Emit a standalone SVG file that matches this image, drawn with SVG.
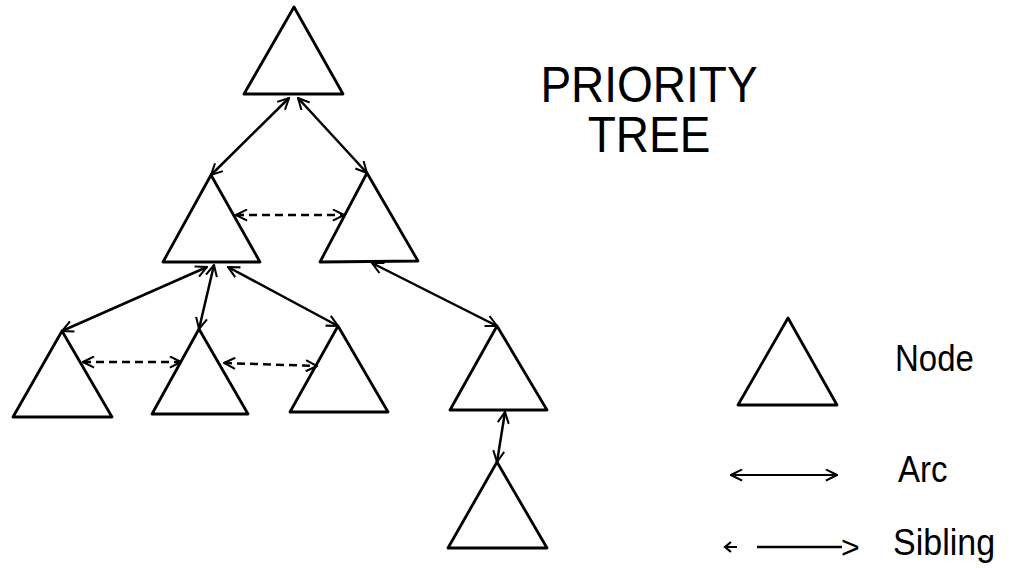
<svg xmlns="http://www.w3.org/2000/svg" width="1016" height="568" viewBox="0 0 1016 568">
  <style>
    .tri { fill: none; stroke: #000; stroke-width: 2.8; stroke-linejoin: round; }
    .arc { fill: none; stroke: #000; stroke-width: 2.5; marker-start: url(#head); marker-end: url(#head); }
    .sib { fill: none; stroke: #000; stroke-width: 2.5; stroke-dasharray: 8 5; marker-start: url(#head); marker-end: url(#head); }
    .lbl { font-family: "Liberation Sans", Arial, sans-serif; fill: #000; }
  </style>
  <defs>
    <marker id="head" viewBox="0 0 14 14" refX="13" refY="7" markerWidth="13" markerHeight="13" markerUnits="userSpaceOnUse" orient="auto-start-reverse">
      <path d="M1,1 L13,7 L1,13" fill="none" stroke="#000" stroke-width="2.2"/>
    </marker>
  </defs>

  <!-- tree nodes -->
  <g id="node-root"><polygon class="tri" points="294,7 244,94 343,94"/></g>
  <g id="node-l1-left"><polygon class="tri" points="211,175 163,262 260,262"/></g>
  <g id="node-l1-right"><polygon class="tri" points="367,173 320,262 418,261"/></g>
  <g id="node-l2-a"><polygon class="tri" points="62,331 13,417 112,417"/></g>
  <g id="node-l2-b"><polygon class="tri" points="199,329 152,414 248,414"/></g>
  <g id="node-l2-c"><polygon class="tri" points="338,326 290,412 388,412"/></g>
  <g id="node-l2-d"><polygon class="tri" points="497,326 450,410 547,410"/></g>
  <g id="node-l3"><polygon class="tri" points="497,462 448,548 547,548"/></g>

  <!-- arcs and sibling links -->
  <g id="connectors">
    <line class="arc" x1="289" y1="98" x2="211" y2="175"/>
    <line class="arc" x1="298" y1="98" x2="367" y2="173"/>
    <line class="arc" x1="207" y1="267" x2="62" y2="331"/>
    <line class="arc" x1="214" y1="265" x2="199" y2="329"/>
    <line class="arc" x1="228" y1="267" x2="338" y2="326"/>
    <line class="arc" x1="372" y1="263" x2="497" y2="326"/>
    <line class="arc" x1="505" y1="412" x2="497" y2="462"/>
    <line class="sib" x1="236" y1="215" x2="344" y2="215"/>
    <line class="sib" x1="83" y1="362" x2="181" y2="362"/>
    <line class="sib" x1="224" y1="363" x2="317" y2="366"/>
  </g>

  <!-- title -->
  <g id="title">
    <text class="lbl" font-size="46" text-anchor="middle" transform="translate(649,102) scale(1,1.07)">PRIORITY</text>
    <text class="lbl" font-size="46" text-anchor="middle" transform="translate(649,152) scale(1,1.07)">TREE</text>
  </g>

  <!-- legend -->
  <g id="legend-node">
    <polygon class="tri" points="788,318 738,405 837,405"/>
    <text class="lbl" font-size="33" transform="translate(895,371) scale(1,1.12)">Node</text>
  </g>
  <g id="legend-arc">
    <line x1="731" y1="475" x2="837" y2="475" stroke="#000" stroke-width="2.2" marker-start="url(#head)" marker-end="url(#head)"/>
    <text class="lbl" font-size="33" transform="translate(898,482) scale(1,1.12)">Arc</text>
  </g>
  <g id="legend-sibling">
    <path d="M737,547 L725,547 M731,542 L725,547 L731,552" fill="none" stroke="#000" stroke-width="2.2"/>
    <line x1="757" y1="547" x2="842" y2="547" stroke="#000" stroke-width="2.4"/>
    <text class="lbl" x="841" y="558" font-size="32">&gt;</text>
    <text class="lbl" font-size="34" transform="translate(893,555) scale(1,1.08)">Sibling</text>
  </g>
</svg>
